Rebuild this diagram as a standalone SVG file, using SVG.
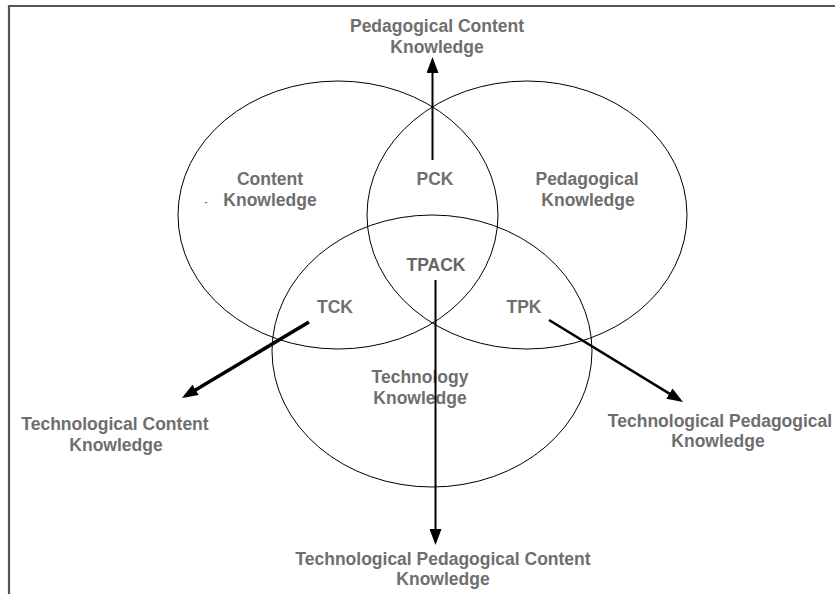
<svg xmlns="http://www.w3.org/2000/svg" width="835" height="594" viewBox="0 0 835 594">
  <style>
    .c { fill: none; stroke: #000; stroke-width: 1; }
    .t { font-family: "Liberation Sans", Arial, sans-serif; font-size: 17.5px; font-weight: bold; fill: #6e6e6e; text-anchor: middle; }
    .a { stroke: #000; fill: none; marker-end: url(#ah); }
  </style>
  <defs>
    <marker id="ah" markerUnits="userSpaceOnUse" markerWidth="16" markerHeight="12" refX="12" refY="6" orient="auto">
      <path d="M0,0 L16,6 L0,12 z" fill="#000"/>
    </marker>
  </defs>
  <rect width="835" height="594" fill="#fff"/>
  <path d="M9,594 V6 H835" fill="none" stroke="#555" stroke-width="2.2"/>

  <g id="content-knowledge">
    <ellipse class="c" cx="338" cy="215" rx="160" ry="134"/>
    <text class="t" x="270" y="185">Content</text>
    <text class="t" x="206" y="205" style="font-size:9px">-</text>
    <text class="t" x="270" y="206">Knowledge</text>
  </g>
  <g id="pedagogical-knowledge">
    <ellipse class="c" cx="527" cy="215" rx="160" ry="134"/>
    <text class="t" x="587" y="185">Pedagogical</text>
    <text class="t" x="588" y="206">Knowledge</text>
  </g>
  <g id="technology-knowledge">
    <ellipse class="c" cx="432" cy="351" rx="160" ry="136"/>
    <text class="t" x="420" y="383">Technology</text>
    <text class="t" x="420" y="404">Knowledge</text>
  </g>
  <g id="pck">
    <text class="t" x="435" y="185">PCK</text>
  </g>
  <g id="tpack">
    <text class="t" x="436" y="271" style="fill:#666">TPACK</text>
  </g>
  <g id="tck">
    <text class="t" x="335" y="313">TCK</text>
  </g>
  <g id="tpk">
    <text class="t" x="524" y="313">TPK</text>
  </g>

  <g id="label-pck">
    <text class="t" x="437" y="32">Pedagogical Content</text>
    <text class="t" x="437" y="53">Knowledge</text>
  </g>
  <g id="label-tck">
    <text class="t" x="115" y="430">Technological Content</text>
    <text class="t" x="116" y="451">Knowledge</text>
  </g>
  <g id="label-tpk">
    <text class="t" x="720" y="427">Technological Pedagogical</text>
    <text class="t" x="718" y="447">Knowledge</text>
  </g>
  <g id="label-tpack">
    <text class="t" x="443" y="565">Technological Pedagogical Content</text>
    <text class="t" x="443" y="585">Knowledge</text>
  </g>

  <g id="connectors">
    <line class="a" x1="432.5" y1="160" x2="432.5" y2="61" stroke-width="2"/>
    <line class="a" x1="435.5" y1="280" x2="435.5" y2="541" stroke-width="2"/>
    <line class="a" x1="309" y1="322" x2="185.4" y2="395.9" stroke-width="3.5"/>
    <line class="a" x1="549" y1="320" x2="679.6" y2="399.9" stroke-width="2.5"/>
  </g>
</svg>
